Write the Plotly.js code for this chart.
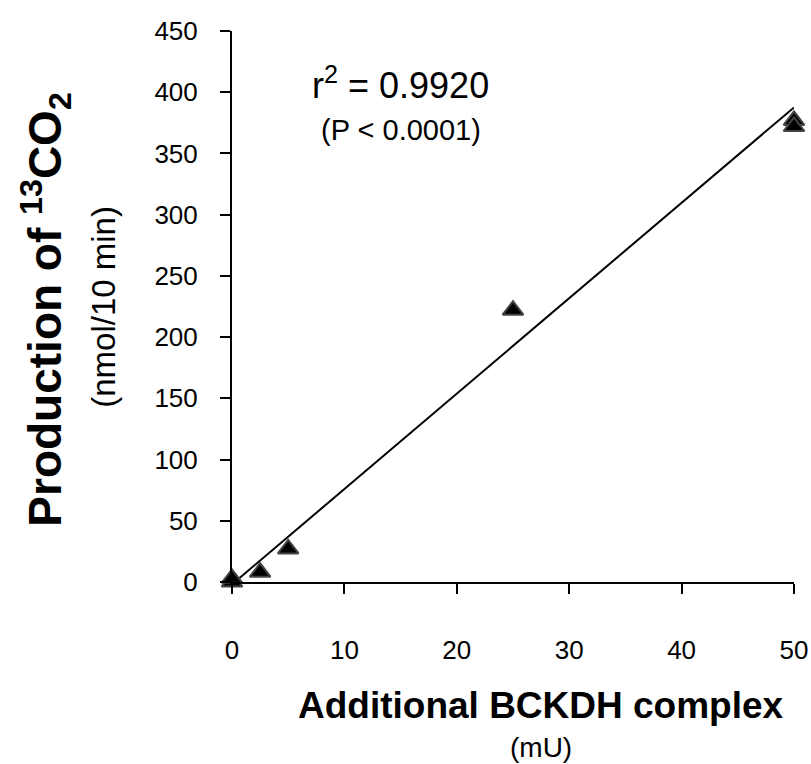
<!DOCTYPE html>
<html>
<head>
<meta charset="utf-8">
<script src="https://cdn.plot.ly/plotly-3.0.1.min.js"></script>
<style>html,body{margin:0;padding:0;background:#fff;}#chart{width:811px;height:764px;}</style>
</head>
<body>
<div id="chart"></div>
<script>
// Data
const bckdh = [0, 0, 2.5, 5, 25, 50, 50];            // additional BCKDH complex (mU)
const co2 = [0, 3, 8, 27, 222, 377, 372];            // 13CO2 production (nmol/10 min)
const xTicks = [0, 10, 20, 30, 40, 50];
const yTicks = [0, 50, 100, 150, 200, 250, 300, 350, 400, 450];
const r2Text = 'r<sup>2</sup> = 0.9920';
const pText = '(P < 0.0001)';

// least-squares fit on per-dose means
const groups = {};
bckdh.forEach((x, i) => { (groups[x] = groups[x] || []).push(co2[i]); });
const gx = Object.keys(groups).map(Number);
const gy = gx.map(x => groups[x].reduce((a, b) => a + b, 0) / groups[x].length);
const n = gx.length;
const mx = gx.reduce((a, b) => a + b, 0) / n;
const my = gy.reduce((a, b) => a + b, 0) / n;
let sxy = 0, sxx = 0;
for (let i = 0; i < n; i++) { sxy += (gx[i] - mx) * (gy[i] - my); sxx += (gx[i] - mx) ** 2; }
const slope = sxy / sxx, icpt = my - slope * mx;
const fitX = [Math.min(...gx), Math.max(...gx)];
const fitY = fitX.map(x => icpt + slope * x);

const font = 'Liberation Sans, Arial, sans-serif';
const traces = [
  {x: fitX, y: fitY, mode: 'lines', line: {color: '#000', width: 2}, cliponaxis: false, hoverinfo: 'skip'},
  {x: bckdh, y: co2, mode: 'markers', cliponaxis: false,
   marker: {symbol: 'triangle-up', size: 18, color: '#000', line: {color: '#444', width: 2}}}
];
const layout = {
  width: 811, height: 764, showlegend: false,
  paper_bgcolor: '#fff', plot_bgcolor: '#fff',
  margin: {l: 232, r: 17, t: 31, b: 182},
  font: {family: font, color: '#000', size: 26},
  xaxis: {range: [0, 50], tickvals: xTicks, showgrid: false, zeroline: false,
    showline: true, linecolor: '#000', linewidth: 2, ticks: 'outside', ticklen: 10, tickwidth: 2,
    tickcolor: '#000', ticklabelstandoff: 34, tickfont: {size: 26}},
  yaxis: {range: [0, 450], tickvals: yTicks, showgrid: false, zeroline: false,
    showline: true, linecolor: '#000', linewidth: 2, ticks: 'outside', ticklen: 10, tickwidth: 2,
    tickcolor: '#000', ticklabelstandoff: 17, tickfont: {size: 26}},
  annotations: [
    {text: 'Additional BCKDH complex', xref: 'paper', yref: 'paper', x: 0.55, y: -0.225,
     xanchor: 'center', yanchor: 'middle', showarrow: false, font: {size: 37, family: font, weight: 'bold'}},
    {text: '(mU)', xref: 'paper', yref: 'paper', x: 0.55, y: -0.3,
     xanchor: 'center', yanchor: 'middle', showarrow: false, font: {size: 28}},
    {text: 'Production of <sup>13</sup>CO<sub>2</sub>', xref: 'paper', yref: 'paper', x: -0.332, y: 0.495,
     xanchor: 'center', yanchor: 'middle', textangle: -90, showarrow: false, font: {size: 46, family: font, weight: 'bold'}},
    {text: '(nmol/10 min)', xref: 'paper', yref: 'paper', x: -0.23, y: 0.499,
     xanchor: 'center', yanchor: 'middle', textangle: -90, showarrow: false, font: {size: 33}},
    {text: r2Text, xref: 'paper', yref: 'paper', x: 0.3, y: 0.905,
     xanchor: 'center', yanchor: 'middle', showarrow: false, font: {size: 36}},
    {text: pText, xref: 'paper', yref: 'paper', x: 0.3, y: 0.82,
     xanchor: 'center', yanchor: 'middle', showarrow: false, font: {size: 29}}
  ]
};
Plotly.newPlot('chart', traces, layout, {displayModeBar: false, staticPlot: true});
</script>
</body>
</html>
